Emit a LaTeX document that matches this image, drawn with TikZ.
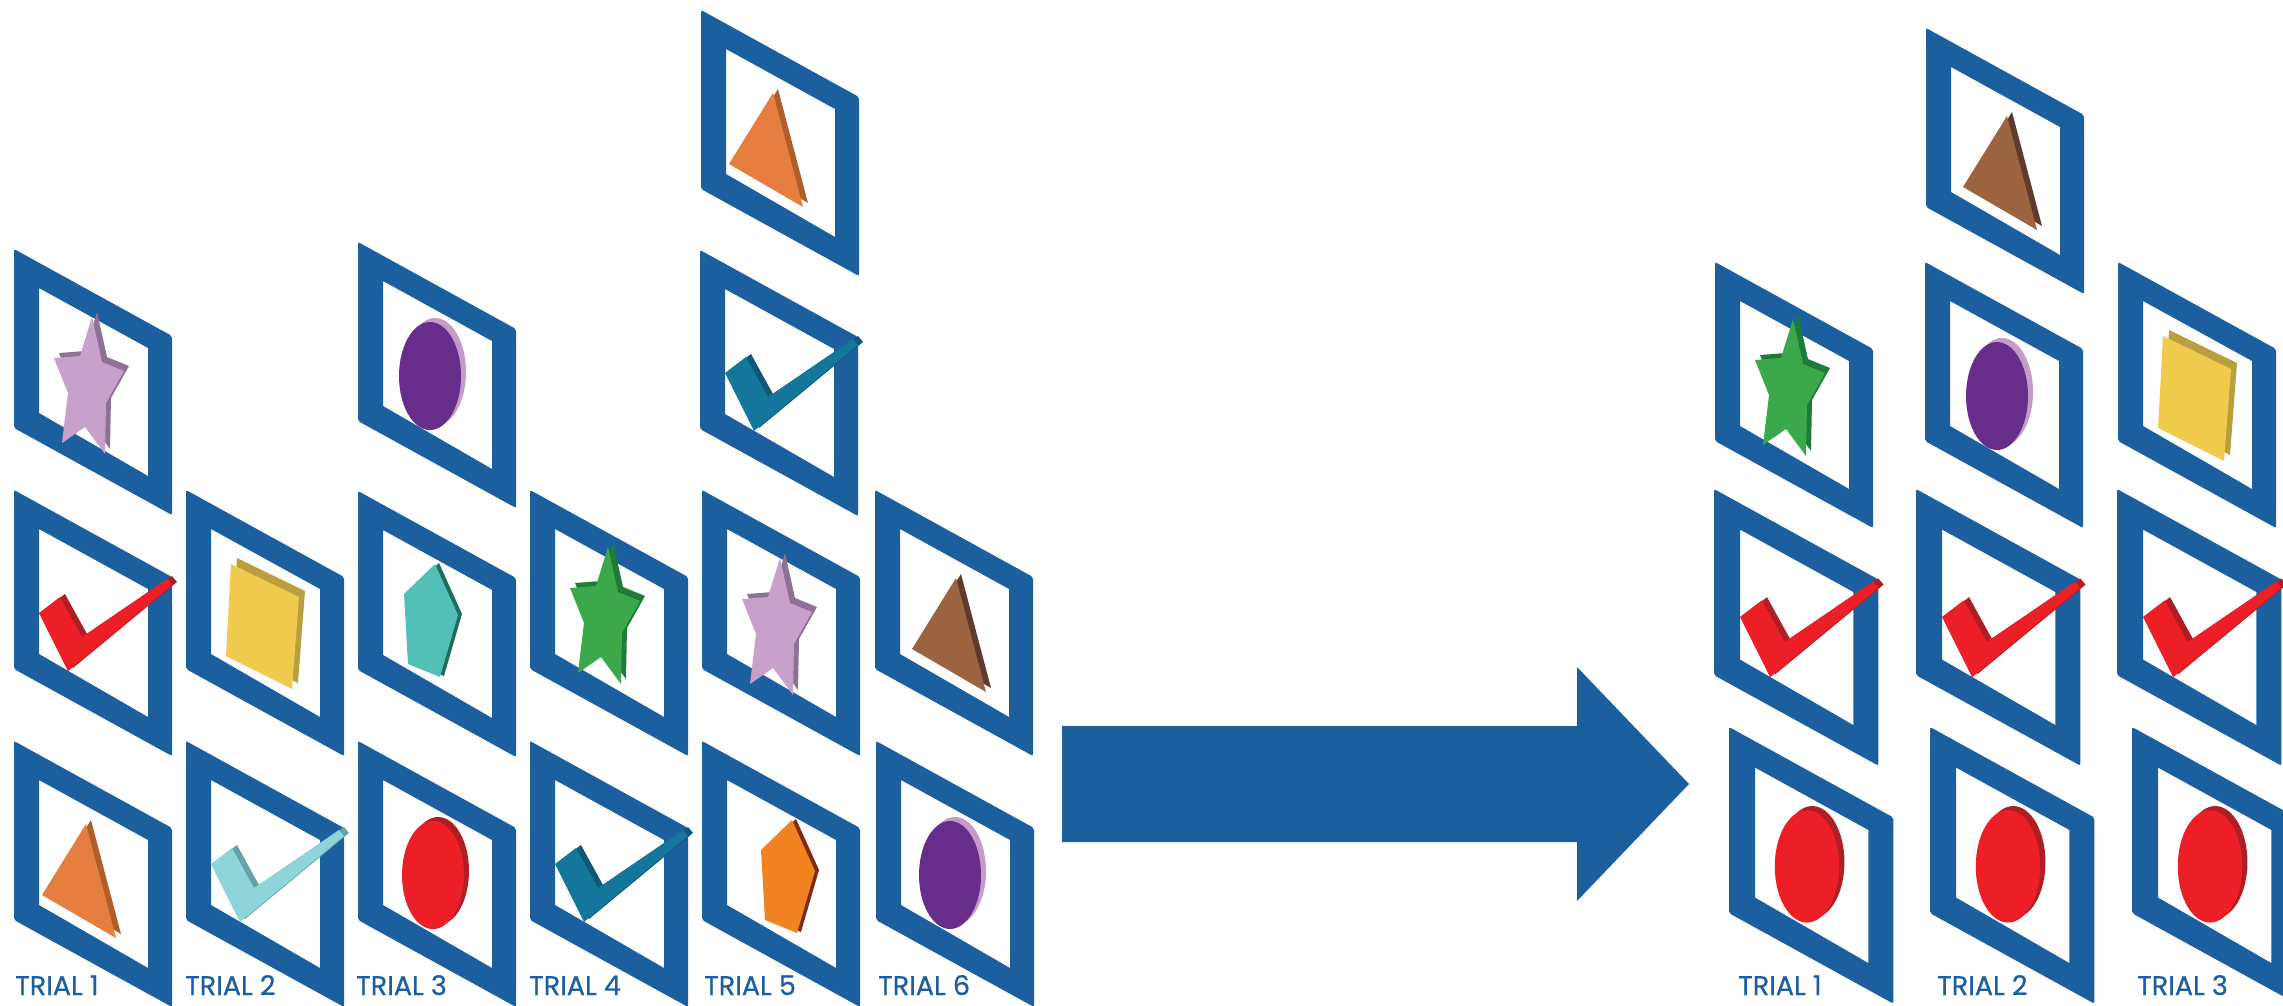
\documentclass[tikz,border=0pt]{standalone}
\usepackage{fontspec}
\setmainfont{Poppins}
\newfontfamily\trialfont{Poppins}[FakeBold=0.6]
\usepackage{tikz}

\definecolor{trialblue}{RGB}{27,95,158}
\definecolor{lilac}{HTML}{C7A0CB}
\definecolor{lilacdk}{HTML}{8E7296}
\definecolor{leaf}{HTML}{3BA84A}
\definecolor{leafdk}{HTML}{1E7B38}
\definecolor{tickred}{HTML}{EC1F27}
\definecolor{tickreddk}{HTML}{AF1E24}
\definecolor{carrot}{HTML}{E57E3E}
\definecolor{carrotdk}{HTML}{B05F2B}
\definecolor{cocoa}{HTML}{9C633F}
\definecolor{cocoadk}{HTML}{5E3B2D}
\definecolor{mustard}{HTML}{F0CB4E}
\definecolor{mustarddk}{HTML}{B99F3E}
\definecolor{sea}{HTML}{52C0B6}
\definecolor{seadk}{HTML}{1C6D5E}
\definecolor{amber}{HTML}{F18420}
\definecolor{amberdk}{HTML}{7B2C12}
\definecolor{plum}{HTML}{672D8B}
\definecolor{plumlt}{HTML}{C49BC9}
\definecolor{petrol}{HTML}{14769B}
\definecolor{petroldk}{HTML}{0D5876}
\definecolor{ice}{HTML}{8FD4D8}
\definecolor{icedk}{HTML}{65A2A6}

\def\starpath{(78,68)--(88,113)--(110,122)--(92,154)--(91,205)--(71,178)--(48,194)--(54,144)--(40,109)--(66,107)--cycle}
\def\tickpath{(25,123)--(46,107)--(68,147)--(153,89)--(158,95)--(54,181)--cycle}
\def\tripath{(72,83)--(28,154)--(102,197)--cycle}
\def\squarepath{(45,74)--(113,107)--(106,199)--(40,166)--cycle}
\def\pentpath{(77,73)--(100,124)--(82,186)--(50,173)--(46,103)--cycle}

\tikzset{
  pics/frame/.style={code={\fill[trialblue,even odd rule] [rounded corners=2pt] (0,0)--(158,87)--(158,266)--(0,179)--cycle [sharp corners] (25,39)--(134,99)--(134,227)--(25,164)--cycle;}},
  pics/star/.style 2 args={code={\fill[#2,shift={(5,-5)}] \starpath; \fill[#1] \starpath;}},
  pics/tick/.style 2 args={code={\fill[#2,shift={(5,-3)}] \tickpath; \fill[#1] \tickpath;}},
  pics/tri/.style 2 args={code={\fill[#2,shift={(5,-4)}] \tripath; \fill[#1] \tripath;}},
  pics/square/.style 2 args={code={\fill[#2,shift={(6,-6)}] \squarepath; \fill[#1] \squarepath;}},
  pics/pent/.style 2 args={code={\fill[#2,shift={(4,-1)}] \pentpath; \fill[#1] \pentpath;}},
  pics/oval/.style 2 args={code={\fill[#2] (80,130) ellipse [x radius=31, y radius=54]; \fill[#1] (75,134) ellipse [x radius=31, y radius=54];}},
  trial/.style={text=trialblue, font=\trialfont\fontsize{27}{30}\selectfont, anchor=base west, inner sep=0pt, text depth=0pt},
  big/.style={scale=1.04}
}

\begin{document}
\begin{tikzpicture}[x=1pt,y=-1pt]
\useasboundingbox (0,0) rectangle (2283,1006);

\pic at (14,249) {frame};   \pic at (14,249) {star={lilac}{lilacdk}};
\pic at (14,490) {frame};   \pic at (14,490) {tick={tickred}{tickreddk}};
\pic at (14,741) {frame};   \pic at (14,741) {tri={carrot}{carrotdk}};
\pic at (186,490) {frame};  \pic at (186,490) {square={mustard}{mustarddk}};
\pic at (186,741) {frame};  \pic at (186,741) {tick={ice}{icedk}};
\pic at (358,242) {frame};  \pic at (355,242) {oval={plum}{plumlt}};
\pic at (358,491) {frame};  \pic at (358,491) {pent={sea}{seadk}};
\pic at (358,741) {frame};  \pic at (358,741) {oval={tickred}{tickreddk}};
\pic at (530,490) {frame};  \pic at (530,479) {star={leaf}{leafdk}};
\pic at (530,741) {frame};  \pic at (530,741) {tick={petrol}{petroldk}};
\pic at (701,10) {frame};   \pic at (701,10) {tri={carrot}{carrotdk}};
\pic at (700,250) {frame};  \pic at (700,250) {tick={petrol}{petroldk}};
\pic at (702,490) {frame};  \pic at (702,490) {star={lilac}{lilacdk}};
\pic at (702,741) {frame};  \pic at (715,747) {pent={amber}{amberdk}};
\pic at (875,490) {frame};  \pic at (884,495) {tri={cocoa}{cocoadk}};
\pic at (876,741) {frame};  \pic at (875,741) {oval={plum}{plumlt}};

\fill[trialblue] (1062,726) -- (1577,726) -- (1577,667) -- (1689,784) -- (1577,901) -- (1577,842) -- (1062,842) -- cycle;

\pic at (1715,262) {frame};  \pic at (1715,251) {star={leaf}{leafdk}};
\pic[big] at (1714,489) {frame};  \pic[big] at (1714,489) {tick={tickred}{tickreddk}};
\pic[big] at (1729,727) {frame};  \pic[big] at (1729,727) {oval={tickred}{tickreddk}};
\pic at (1926,28) {frame};   \pic at (1935,33) {tri={cocoa}{cocoadk}};
\pic at (1925,262) {frame};  \pic at (1922,262) {oval={plum}{plumlt}};
\pic[big] at (1916,489) {frame};  \pic[big] at (1916,489) {tick={tickred}{tickreddk}};
\pic[big] at (1930,727) {frame};  \pic[big] at (1930,727) {oval={tickred}{tickreddk}};
\pic at (2118,262) {frame};  \pic at (2118,262) {square={mustard}{mustarddk}};
\pic[big] at (2117,489) {frame};  \pic[big] at (2117,489) {tick={tickred}{tickreddk}};
\pic[big] at (2132,727) {frame};  \pic[big] at (2132,727) {oval={tickred}{tickreddk}};

\node[trial] (l1) at (15,995) {TRIAL 1};
\node[trial] (l2) at (185,995) {TRIAL 2};
\node[trial] (l3) at (356,995) {TRIAL 3};
\node[trial] (l4) at (529,995) {TRIAL 4};
\node[trial] (l5) at (704,995) {TRIAL 5};
\node[trial] (l6) at (878,995) {TRIAL 6};
\node[trial] (r1) at (1738,995) {TRIAL 1};
\node[trial] (r2) at (1937,995) {TRIAL 2};
\node[trial] (r3) at (2137,995) {TRIAL 3};
\end{tikzpicture}
\end{document}
